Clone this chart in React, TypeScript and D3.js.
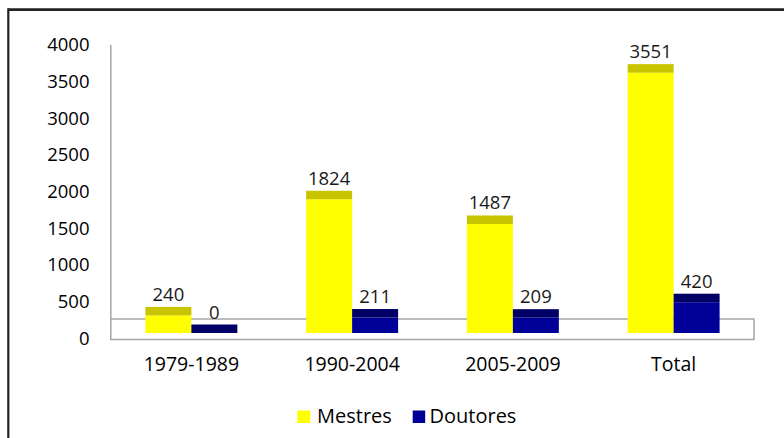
import React from "react";
import * as d3 from "d3";

const categories = ["1979-1989", "1990-2004", "2005-2009", "Total"];
const seriesNames = ["Mestres", "Doutores"];
const mestres = [240, 1824, 1487, 3551];
const doutores = [0, 211, 209, 420];
const yTicks = [0, 500, 1000, 1500, 2000, 2500, 3000, 3500, 4000];

const frontColors = ["#ffff00", "#000099"];
const topColors = ["#c8c400", "#000066"];

const W = 784;
const H = 438;
const FONT = "'Open Sans', 'Noto Sans', sans-serif";

export default function App() {
  const x0 = d3
    .scaleBand<string>()
    .domain(categories)
    .range([111, 754])
    .paddingInner(0.428)
    .paddingOuter(0.214);
  const x1 = d3
    .scaleBand<string>()
    .domain(seriesNames)
    .range([0, x0.bandwidth()]);
  // bar value scale (front face base)
  const y = d3.scaleLinear().domain([0, 4000]).range([333, 333 - 4000 * 0.07332]);
  const tickOffset = 5.3;
  const depth = 8.5;
  const values = [mestres, doutores];

  return (
    <svg
      width={W}
      height={H}
      style={{ position: "absolute", left: 0, top: 0, background: "#fff" }}
      fontFamily={FONT}
    >
      <rect x={0} y={0} width={W} height={H} fill="#fff" />
      {/* outer frame */}
      <line x1={8.3} x2={W} y1={9.6} y2={9.6} stroke="#222" strokeWidth={2.6} />
      <line x1={8.3} x2={8.3} y1={8.3} y2={H} stroke="#222" strokeWidth={2.2} />

      {/* value axis wall line */}
      <line x1={110.8} x2={110.8} y1={45} y2={340} stroke="#a6a6a6" strokeWidth={1.5} />
      {/* floor */}
      <rect
        x={110.8}
        y={319}
        width={754 - 110.8}
        height={20.5}
        fill="#fff"
        stroke="#a6a6a6"
        strokeWidth={1.5}
      />

      {/* y tick labels */}
      {yTicks.map((t) => (
        <text
          key={t}
          x={89.5}
          y={y(t) + tickOffset}
          dy="0.35em"
          textAnchor="end"
          fontSize={18.5}
          fill="#000"
        >
          {t}
        </text>
      ))}

      {/* bars */}
      {categories.map((c, ci) => (
        <g key={c}>
          {seriesNames.map((s, si) => {
            const v = values[si][ci];
            const bx = (x0(c) ?? 0) + (x1(s) ?? 0);
            const bw = x1.bandwidth();
            const yt = y(v);
            return (
              <g key={s}>
                <rect x={bx} y={yt} width={bw} height={y(0) - yt} fill={frontColors[si]} />
                <rect x={bx} y={yt - depth} width={bw} height={depth} fill={topColors[si]} />
                <text
                  x={bx + bw / 2}
                  y={yt - depth - 6}
                  textAnchor="middle"
                  fontSize={18.5}
                  fill="#1a1a1a"
                >
                  {v}
                </text>
              </g>
            );
          })}
        </g>
      ))}

      {/* category labels */}
      {categories.map((c) => (
        <text
          key={c}
          x={(x0(c) ?? 0) + x0.bandwidth() / 2}
          y={370.7}
          textAnchor="middle"
          fontSize={19.5}
          fill="#000"
        >
          {c}
        </text>
      ))}

      {/* legend */}
      <g>
        <rect x={297.3} y={410.5} width={13} height={12.5} fill={frontColors[0]} />
        <text x={317} y={422.7} fontSize={20} fill="#000">
          {seriesNames[0]}
        </text>
        <rect x={412.7} y={410.5} width={12.5} height={12.5} fill={frontColors[1]} />
        <text x={429.5} y={422.7} fontSize={20} fill="#000">
          {seriesNames[1]}
        </text>
      </g>
    </svg>
  );
}
